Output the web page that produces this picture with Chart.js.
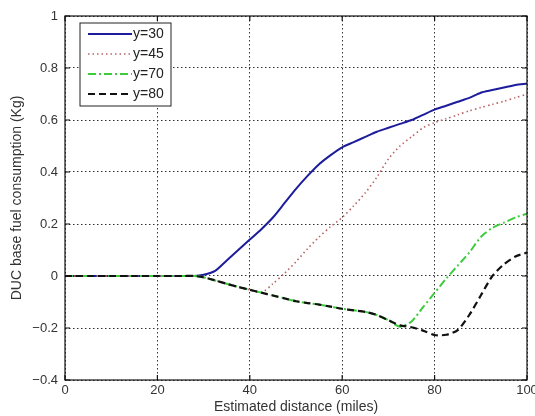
<!DOCTYPE html>
<html>
<head>
<meta charset="utf-8">
<script src="https://cdn.jsdelivr.net/npm/chart.js@4"></script>
<style>
  html, body { margin: 0; padding: 0; background: #fff; }
  #wrap { width: 535px; height: 416px; position: relative; }
</style>
</head>
<body>
<div id="wrap"><canvas id="fuelChart"></canvas></div>
<script>
// distances (miles) shared by every curve
const distance = [0, 5, 10, 15, 20, 25, 28, 30, 32.5, 35, 37.5, 40, 42.5, 45, 47.5, 50, 52.5, 55, 57.5, 60,
  62.5, 65, 67.5, 70, 72.5, 75, 77.5, 80, 82.5, 85, 87.5, 90, 92.5, 95, 97.5, 100];

const fuelY30 = [0, 0, 0, 0, 0, 0, 0, 0.005, 0.02, 0.06, 0.1, 0.14, 0.18, 0.225, 0.28, 0.335, 0.385, 0.43, 0.465, 0.495,
  0.515, 0.535, 0.555, 0.57, 0.585, 0.6, 0.62, 0.64, 0.655, 0.67, 0.685, 0.705, 0.715, 0.725, 0.735, 0.74];
const fuelY45 = [0, 0, 0, 0, 0, 0, 0, -0.005, -0.017, -0.03, -0.042, -0.053, -0.064, -0.03, 0.01, 0.055, 0.105, 0.15, 0.19, 0.225,
  0.27, 0.32, 0.38, 0.45, 0.5, 0.535, 0.57, 0.59, 0.605, 0.62, 0.635, 0.648, 0.66, 0.672, 0.686, 0.7];
const fuelY70 = [0, 0, 0, 0, 0, 0, 0, -0.005, -0.017, -0.03, -0.042, -0.053, -0.064, -0.075, -0.086, -0.097, -0.104, -0.11, -0.118, -0.126,
  -0.132, -0.138, -0.15, -0.17, -0.195, -0.175, -0.12, -0.065, -0.01, 0.04, 0.09, 0.15, 0.185, 0.205, 0.225, 0.24];
const fuelY80 = [0, 0, 0, 0, 0, 0, 0, -0.005, -0.017, -0.03, -0.042, -0.053, -0.064, -0.075, -0.086, -0.097, -0.104, -0.11, -0.118, -0.126,
  -0.132, -0.138, -0.15, -0.17, -0.19, -0.197, -0.21, -0.227, -0.226, -0.208, -0.15, -0.075, 0, 0.045, 0.075, 0.09];

const seriesLabels = ['y=30', 'y=45', 'y=70', 'y=80'];
const xTicks = [0, 20, 40, 60, 80, 100];
const yTicks = [-0.4, -0.2, 0, 0.2, 0.4, 0.6, 0.8, 1];

const toPoints = ys => ys.map((y, i) => ({ x: distance[i], y: y }));

const FONT = '"Liberation Sans", Arial, sans-serif';

// matlab style box, inward ticks and legend inside the axes
const boxPlugin = {
  id: 'boxPlugin',
  afterDatasetsDraw(chart) {
    const ctx = chart.ctx;
    const a = chart.chartArea;
    const xs = chart.scales.x, ys = chart.scales.y;
    ctx.save();
    ctx.strokeStyle = '#111';
    ctx.lineWidth = 1.2;
    ctx.setLineDash([]);
    ctx.strokeRect(a.left, a.top, a.right - a.left, a.bottom - a.top);
    ctx.beginPath();
    xTicks.forEach(v => {
      const px = xs.getPixelForValue(v);
      ctx.moveTo(px, a.bottom); ctx.lineTo(px, a.bottom - 5);
      ctx.moveTo(px, a.top); ctx.lineTo(px, a.top + 5);
    });
    yTicks.forEach(v => {
      const py = ys.getPixelForValue(v);
      ctx.moveTo(a.left, py); ctx.lineTo(a.left + 5, py);
      ctx.moveTo(a.right, py); ctx.lineTo(a.right - 5, py);
    });
    ctx.stroke();

    // legend box
    const lx = a.left + 15, ly = a.top + 7, lw = 91, lh = 83;
    ctx.fillStyle = '#fff';
    ctx.fillRect(lx, ly, lw, lh);
    ctx.strokeStyle = '#222';
    ctx.lineWidth = 1;
    ctx.strokeRect(lx, ly, lw, lh);
    ctx.font = '14px ' + FONT;
    ctx.textBaseline = 'middle';
    chart.data.datasets.forEach((ds, i) => {
      const rowY = ly + 11 + i * 20;
      ctx.strokeStyle = ds.borderColor;
      ctx.lineWidth = ds.borderWidth;
      ctx.setLineDash(ds.borderDash || []);
      ctx.beginPath();
      ctx.moveTo(lx + 8, rowY);
      ctx.lineTo(lx + 52, rowY);
      ctx.stroke();
      ctx.setLineDash([]);
      ctx.fillStyle = '#222';
      ctx.fillText(ds.label, lx + 53, rowY);
    });
    ctx.restore();
  }
};

const ctx = document.getElementById('fuelChart');

new Chart(ctx, {
  type: 'line',
  data: {
    datasets: [
      { label: seriesLabels[0], data: toPoints(fuelY30), borderColor: '#1c1c9c', borderWidth: 2, order: 3 },
      { label: seriesLabels[1], data: toPoints(fuelY45), borderColor: '#b86464', borderWidth: 1.6, borderDash: [1.5, 3], order: 2 },
      { label: seriesLabels[2], data: toPoints(fuelY70), borderColor: '#3ccc3c', borderWidth: 2, borderDash: [8, 3, 2, 3], order: 1 },
      { label: seriesLabels[3], data: toPoints(fuelY80), borderColor: '#111', borderWidth: 2.2, borderDash: [7, 4], order: 0 }
    ]
  },
  options: {
    responsive: true,
    maintainAspectRatio: false,
    animation: false,
    elements: { point: { radius: 0 }, line: { tension: 0.25 } },
    layout: { padding: { left: 0, right: 8, top: 16, bottom: 0 } },
    plugins: {
      legend: { display: false },
      tooltip: { enabled: false }
    },
    scales: {
      x: {
        type: 'linear',
        min: 0, max: 100,
        afterBuildTicks: s => { s.ticks = xTicks.map(v => ({ value: v })); },
        afterFit: s => { s.height = 36; s.paddingLeft = 0; s.paddingRight = 0; },
        grid: { color: '#333', lineWidth: 1, drawTicks: false },
        border: { display: false, dash: [1.5, 2.5] },
        ticks: { color: '#333', font: { size: 13, family: FONT }, padding: 3, maxRotation: 0 },
        title: { display: true, text: 'Estimated distance (miles)', color: '#333', font: { size: 14, family: FONT }, padding: { top: 0, bottom: 0 } }
      },
      y: {
        min: -0.4, max: 1,
        afterBuildTicks: s => { s.ticks = yTicks.map(v => ({ value: v })); },
        afterFit: s => { s.width = 65; s.paddingTop = 0; s.paddingBottom = 0; },
        grid: { color: '#333', lineWidth: 1, drawTicks: false },
        border: { display: false, dash: [1.5, 2.5] },
        ticks: {
          color: '#333', font: { size: 13, family: FONT }, padding: 7,
          callback: v => String(Math.round(v * 10) / 10).replace('-', '\u2212')
        },
        title: { display: true, text: 'DUC base fuel consumption (Kg)', color: '#333', font: { size: 14, family: FONT }, padding: { top: 9, bottom: 0 } }
      }
    }
  },
  plugins: [boxPlugin]
});
</script>
</body>
</html>
